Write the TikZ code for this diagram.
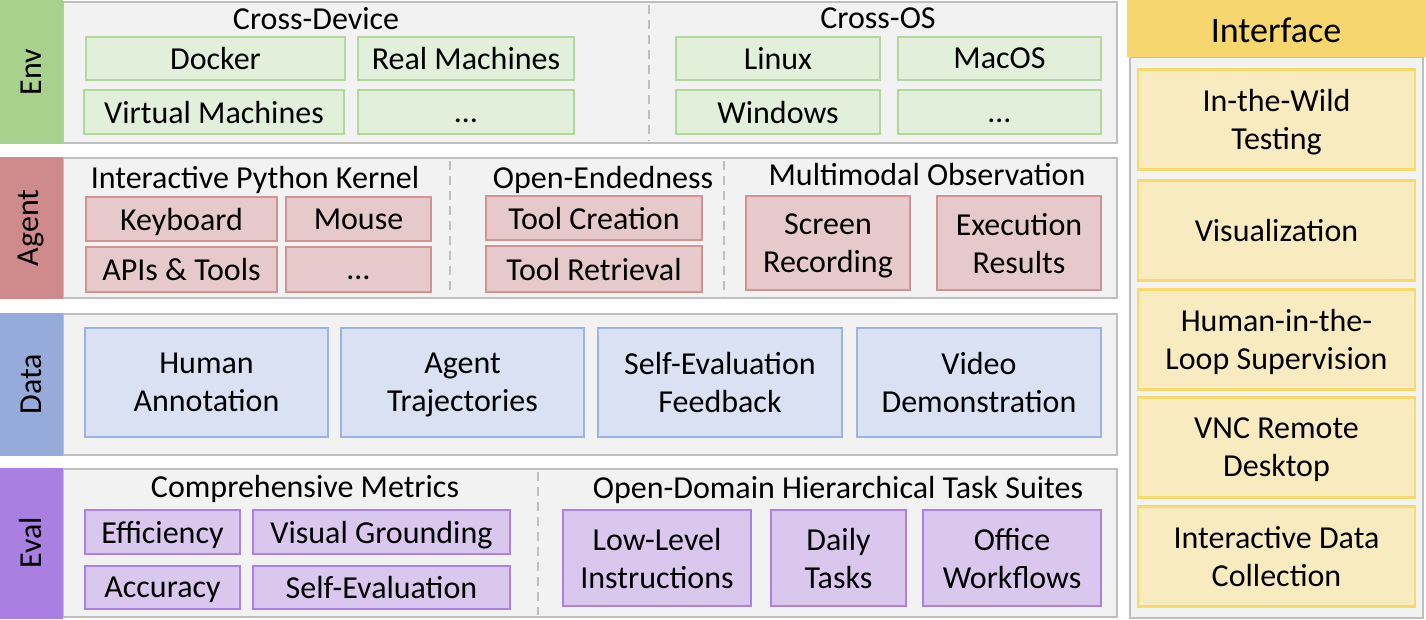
\documentclass[tikz,border=0pt]{standalone}
\usepackage{fontspec}
\setmainfont{Carlito}
\definecolor{pangray}{HTML}{F2F2F2}
\definecolor{panborder}{HTML}{BFBFBF}
\definecolor{envlab}{HTML}{A9D18E}
\definecolor{envfill}{HTML}{E2EFDA}
\definecolor{envline}{HTML}{B4D79B}
\definecolor{aglab}{HTML}{CF8B8B}
\definecolor{agfill}{HTML}{E6C9CA}
\definecolor{agline}{HTML}{D39393}
\definecolor{datalab}{HTML}{97ABDB}
\definecolor{datafill}{HTML}{DAE1F3}
\definecolor{dataline}{HTML}{9DB3E2}
\definecolor{evlab}{HTML}{A980E2}
\definecolor{evfill}{HTML}{D9C7EE}
\definecolor{evline}{HTML}{AD80E6}
\definecolor{iflab}{HTML}{F6D66F}
\definecolor{iffill}{HTML}{F8EBC0}
\definecolor{ifline}{HTML}{F7D96C}
\tikzset{
  panel/.style={fill=pangray, draw=panborder, line width=2.5pt},
  sidelab/.style={font=\fontsize{32}{38}\selectfont, rotate=90, text=black},
  hdr/.style={font=\fontsize{32}{38}\selectfont, text depth=0pt, inner sep=0pt},
  basebox/.style={rectangle, line width=2.5pt, align=center, inner sep=0pt,
    text depth=0pt, font=\fontsize{32}{38}\selectfont},
  envbox/.style={basebox, fill=envfill, draw=envline},
  agbox/.style={basebox, fill=agfill, draw=agline},
  databox/.style={basebox, fill=datafill, draw=dataline},
  evbox/.style={basebox, fill=evfill, draw=evline},
  ifbox/.style={basebox, fill=iffill, draw=ifline, minimum width=277pt, minimum height=100pt},
  divider/.style={draw=panborder, line width=2pt, dash pattern=on 9pt off 6pt},
}
\begin{document}
\begin{tikzpicture}[x=1pt,y=-1pt]
\useasboundingbox (0,0) rectangle (1426,620);
% ---------------- panels ----------------
\draw[panel] (63,2) rectangle (1117,143);
\fill[envlab] (0,0) rectangle (63,144);
\draw[panel] (63,158) rectangle (1117,298);
\fill[aglab] (0,157) rectangle (63,299);
\draw[panel] (63,314) rectangle (1117,455);
\fill[datalab] (0,313) rectangle (63,456);
\draw[panel] (63,469) rectangle (1117,617);
\fill[evlab] (0,468) rectangle (63,619);
\draw[panel] (1130,57) rectangle (1423,618);
\fill[iflab] (1127,0) rectangle (1426,57);
% ---------------- side labels ----------------
\node[sidelab] (lenv) at (31,72) {Env};
\node[sidelab] (lagent) at (31,228) {Agent};
\node[sidelab] (ldata) at (31,384) {Data};
\node[sidelab] (leval) at (31,543) {Eval};
\node[font=\fontsize{36}{42}\selectfont, text depth=0pt, inner sep=0pt] (lif) at (1276,30) {Interface};
% ---------------- dividers ----------------
\coordinate (d1a) at (649,5); \coordinate (d1b) at (649,141);
\coordinate (d2a) at (450,161); \coordinate (d2b) at (450,296);
\coordinate (d3a) at (724,161); \coordinate (d3b) at (724,296);
\coordinate (d4a) at (538,472); \coordinate (d4b) at (538,615);
\draw[divider] (d1a) -- (d1b);
\draw[divider] (d2a) -- (d2b);
\draw[divider] (d3a) -- (d3b);
\draw[divider] (d4a) -- (d4b);
% ---------------- Env ----------------
\node[hdr] (hcd) at (316,18) {Cross-Device};
\node[hdr] (hco) at (878,18) {Cross-OS};
\node[envbox, minimum width=259pt, minimum height=43pt] (docker) at (215.5,58.5) {Docker};
\node[envbox, minimum width=216pt, minimum height=43pt] (realm) at (466,58.5) {Real Machines};
\node[envbox, minimum width=260pt, minimum height=44pt] (vm) at (214,112) {Virtual Machines};
\node[envbox, minimum width=216pt, minimum height=44pt] (edots1) at (466,112) {\vphantom{A}…};
\node[envbox, minimum width=204pt, minimum height=43pt] (linux) at (778,58.5) {Linux};
\node[envbox, minimum width=203pt, minimum height=43pt] (macos) at (999.5,58.5) {MacOS};
\node[envbox, minimum width=204pt, minimum height=44pt] (windows) at (778,112) {Windows};
\node[envbox, minimum width=203pt, minimum height=44pt] (edots2) at (999.5,112) {\vphantom{A}…};
% ---------------- Agent ----------------
\node[hdr] (hipk) at (255,177) {Interactive Python Kernel};
\node[hdr] (hoe) at (603,177) {Open-Endedness};
\node[hdr] (hmo) at (927,174) {Multimodal Observation};
\node[agbox, minimum width=191pt, minimum height=44pt] (keyboard) at (181.5,219) {Keyboard};
\node[agbox, minimum width=145pt, minimum height=44pt] (mouse) at (358.5,219) {Mouse};
\node[agbox, minimum width=191pt, minimum height=45pt] (apis) at (181.5,269.5) {APIs \& Tools};
\node[agbox, minimum width=145pt, minimum height=45pt] (adots) at (358.5,269.5) {\vphantom{A}…};
\node[agbox, minimum width=216pt, minimum height=44pt] (toolc) at (594,218) {Tool Creation};
\node[agbox, minimum width=216pt, minimum height=46pt] (toolr) at (594,269) {Tool Retrieval};
\node[agbox, minimum width=164pt, minimum height=94pt] (screen) at (828,243) {Screen\\Recording};
\node[agbox, minimum width=164pt, minimum height=94pt] (exec) at (1019,243) {Execution\\Results};
% ---------------- Data ----------------
\node[databox, minimum width=243pt, minimum height=109pt] (human) at (206.5,382.5) {Human\\Annotation};
\node[databox, minimum width=243pt, minimum height=109pt] (agtraj) at (462.5,382.5) {Agent\\Trajectories};
\node[databox, minimum width=244pt, minimum height=109pt] (sefb) at (720,382.5) {Self-Evaluation\\Feedback};
\node[databox, minimum width=244pt, minimum height=109pt] (video) at (979,382.5) {Video\\Demonstration};
% ---------------- Eval ----------------
\node[hdr] (hcm) at (305,486) {Comprehensive Metrics};
\node[hdr] (hod) at (838,487) {Open-Domain Hierarchical Task Suites};
\node[evbox, minimum width=155pt, minimum height=44pt] (effic) at (162.5,532) {Efficiency};
\node[evbox, minimum width=257pt, minimum height=44pt] (visg) at (381.5,532) {Visual Grounding};
\node[evbox, minimum width=155pt, minimum height=43pt] (accur) at (162.5,587.5) {Accuracy};
\node[evbox, minimum width=257pt, minimum height=43pt] (selfev) at (381.5,587.5) {Self-Evaluation};
\node[evbox, minimum width=188pt, minimum height=96pt] (lowlev) at (657,558) {Low-Level\\Instructions};
\node[evbox, minimum width=135pt, minimum height=96pt] (daily) at (838.5,558) {Daily\\Tasks};
\node[evbox, minimum width=178pt, minimum height=96pt] (office) at (1012,558) {Office\\Workflows};
% ---------------- Interface ----------------
\node[ifbox] (wild) at (1276.5,119.5) {In-the-Wild\\Testing};
\node[ifbox] (visu) at (1276.5,230.5) {Visualization};
\node[ifbox] (hitl) at (1276.5,339.5) {Human-in-the-\\Loop Supervision};
\node[ifbox] (vnc) at (1276.5,447.5) {VNC Remote\\Desktop};
\node[ifbox] (idc) at (1276.5,556.5) {Interactive Data\\Collection};
\end{tikzpicture}
\end{document}
